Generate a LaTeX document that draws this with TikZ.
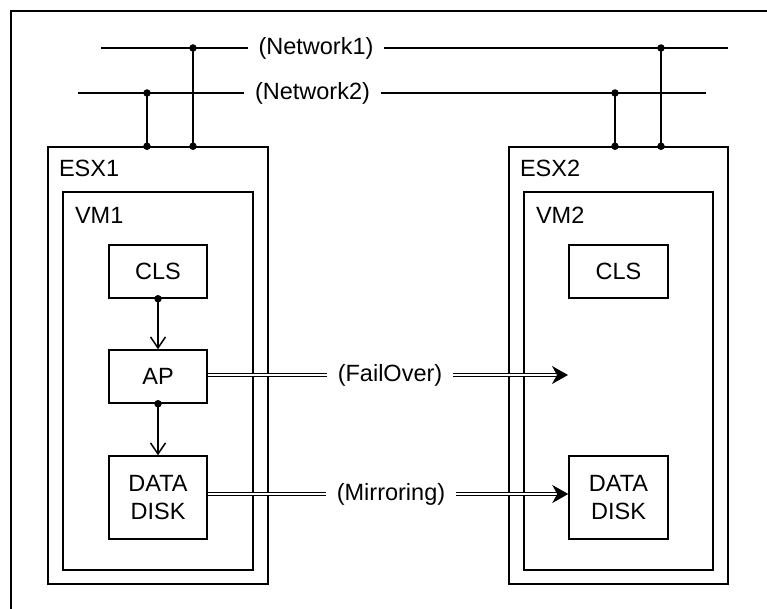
\documentclass[tikz,border=0pt]{standalone}
\usepackage{fontspec}
\setmainfont{Liberation Sans}
\usetikzlibrary{arrows.meta,positioning}

\tikzset{every picture/.style={line width=1.5pt}}
\tikzset{
  box/.style={draw, inner sep=0pt, align=center, font=\fontsize{23.5}{28}\selectfont},
  frame/.style={draw, inner sep=0pt},
  tap/.style={circle, fill, inner sep=0pt, minimum size=7.5pt},
  lbl/.style={inner sep=0pt, font=\fontsize{23.5}{28}\selectfont},
  netlbl/.style={inner xsep=10pt, inner ysep=0pt, font=\fontsize{23.5}{28}\selectfont},
  call/.style={-{Straight Barb[length=11pt,width=15pt]}},
  flow/.style={double, double distance=2pt, line width=1.3pt},
}

\begin{document}
\begin{tikzpicture}[x=1pt,y=1pt,yscale=-1]
	\useasboundingbox (0,0) rectangle (767,609);
	
	%Outer frame
	\draw (11,609) -- (11,11) -- (767,11) ;
	
	%Hosts and guests
	\node [frame, minimum width=220pt, minimum height=437pt] (esxA) at (158,365.5) {};
	\node [frame, minimum width=219pt, minimum height=437pt] (esxB) at (618.5,365.5) {};
	\node [frame, minimum width=190pt, minimum height=378pt] (vmA) at (158,381) {};
	\node [frame, minimum width=189pt, minimum height=378pt] (vmB) at (618.5,381) {};
	\node [lbl, below right=13pt and 11pt of esxA.north west] (esxAlbl) {ESX1};
	\node [lbl, below right=13pt and 11pt of esxB.north west] (esxBlbl) {ESX2};
	\node [lbl, below right=15pt and 12pt of vmA.north west] (vmAlbl) {VM1};
	\node [lbl, below right=15pt and 12pt of vmB.north west] (vmBlbl) {VM2};
	
	%Boxes in VM1
	\node [box, minimum width=98pt, minimum height=53pt] (clsA) at (158,271.5) {CLS};
	\node [box, minimum width=98pt, minimum height=53pt] (apA) at (158,376.5) {AP};
	\node [box, minimum width=98pt, minimum height=83pt] (diskA) at (158,497.5) {DATA\\DISK};
	%Boxes in VM2
	\node [box, minimum width=99pt, minimum height=53pt] (clsB) at (618.5,271.5) {CLS};
	\node [box, minimum width=99pt, minimum height=83pt] (diskB) at (618.5,497.5) {DATA\\DISK};
	
	%Networks
	\coordinate (netOneW) at (101,48);
	\coordinate (netOneE) at (728,48);
	\coordinate (netTwoW) at (78,93);
	\coordinate (netTwoE) at (706,93);
	\node [netlbl] (netOne) at (316,48) {(Network1)};
	\node [netlbl] (netTwo) at (312.5,93) {(Network2)};
	\draw (netOneW) -- (netOne) ;
	\draw (netOne) -- (netOneE) ;
	\draw (netTwoW) -- (netTwo) ;
	\draw (netTwo) -- (netTwoE) ;
	
	%Taps to the hosts
	\node [tap] (tapAone) at (193,48) {};
	\node [tap] (tapAtwo) at (147,93) {};
	\node [tap] (tapBone) at (661,48) {};
	\node [tap] (tapBtwo) at (615,93) {};
	\node [tap] (portAone) at (tapAone |- esxA.north) {};
	\node [tap] (portAtwo) at (tapAtwo |- esxA.north) {};
	\node [tap] (portBone) at (tapBone |- esxB.north) {};
	\node [tap] (portBtwo) at (tapBtwo |- esxB.north) {};
	\draw (tapAone.center) -- (portAone.center) ;
	\draw (tapAtwo.center) -- (portAtwo.center) ;
	\draw (tapBone.center) -- (portBone.center) ;
	\draw (tapBtwo.center) -- (portBtwo.center) ;
	
	%Calls inside VM1
	\node [tap] (clsAout) at (clsA.south) {};
	\node [tap] (apAout) at (apA.south) {};
	\draw [call] (clsAout.center) -- (apA.north) ;
	\draw [call] (apAout.center) -- (diskA.north) ;
	
	%FailOver and Mirroring
	\coordinate (failEnd) at (568,375);
	\node [netlbl] (failLbl) at (390,375) {(FailOver)};
	\node [netlbl] (mirrLbl) at (391,494) {(Mirroring)};
	\draw [flow] (apA.east |- failEnd) -- (failLbl) ;
	\draw [flow, -{Stealth[length=16pt,width=18pt,inset=5pt]}] (failLbl) -- (failEnd) ;
	\draw [flow] (diskA.east |- mirrLbl) -- (mirrLbl) ;
	\draw [flow, -{Stealth[length=16pt,width=18pt,inset=5pt]}] (mirrLbl) -- (diskB.west |- mirrLbl) ;
	
\end{tikzpicture}
\end{document}
